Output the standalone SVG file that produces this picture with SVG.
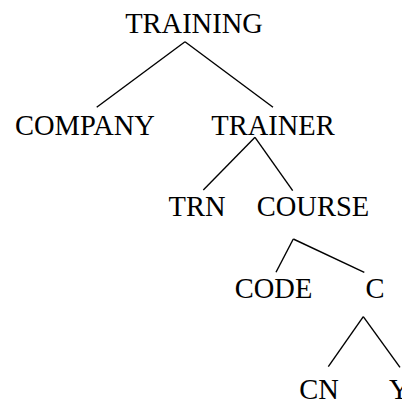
<svg xmlns="http://www.w3.org/2000/svg" width="402" height="403" viewBox="0 0 402 403">
<style>
text{font-family:"Liberation Serif","Times New Roman",serif;font-size:28.5px;fill:#000;text-anchor:middle}
.e{stroke:#000;stroke-width:1.4;fill:none}
</style>
<rect width="402" height="403" fill="#fff"/>
<g id="connectors">
<line class="e" x1="185" y1="41.7" x2="96.7" y2="107.3"/>
<line class="e" x1="185" y1="41.7" x2="273" y2="107.3"/>
<line class="e" x1="255" y1="137.3" x2="203.3" y2="190"/>
<line class="e" x1="255" y1="137.3" x2="292.7" y2="190.7"/>
<line class="e" x1="293.3" y1="239" x2="276" y2="272.3"/>
<line class="e" x1="293.3" y1="239" x2="364.3" y2="272.3"/>
<line class="e" x1="363.3" y1="316.7" x2="328.3" y2="366.7"/>
<line class="e" x1="363.3" y1="316.7" x2="400" y2="367.3"/>
</g>
<g id="training"><text x="194" y="32.5">TRAINING</text></g>
<g id="company"><text x="85" y="135">COMPANY</text></g>
<g id="trainer"><text x="273" y="135">TRAINER</text></g>
<g id="trn"><text x="197" y="215.7">TRN</text></g>
<g id="course"><text x="313" y="215.7">COURSE</text></g>
<g id="code"><text x="273.5" y="297.7">CODE</text></g>
<g id="c"><text x="375" y="297.7">C</text></g>
<g id="cn"><text x="319" y="399">CN</text></g>
<g id="y"><text x="389" y="399" style="text-anchor:start">Y</text></g>
</svg>
